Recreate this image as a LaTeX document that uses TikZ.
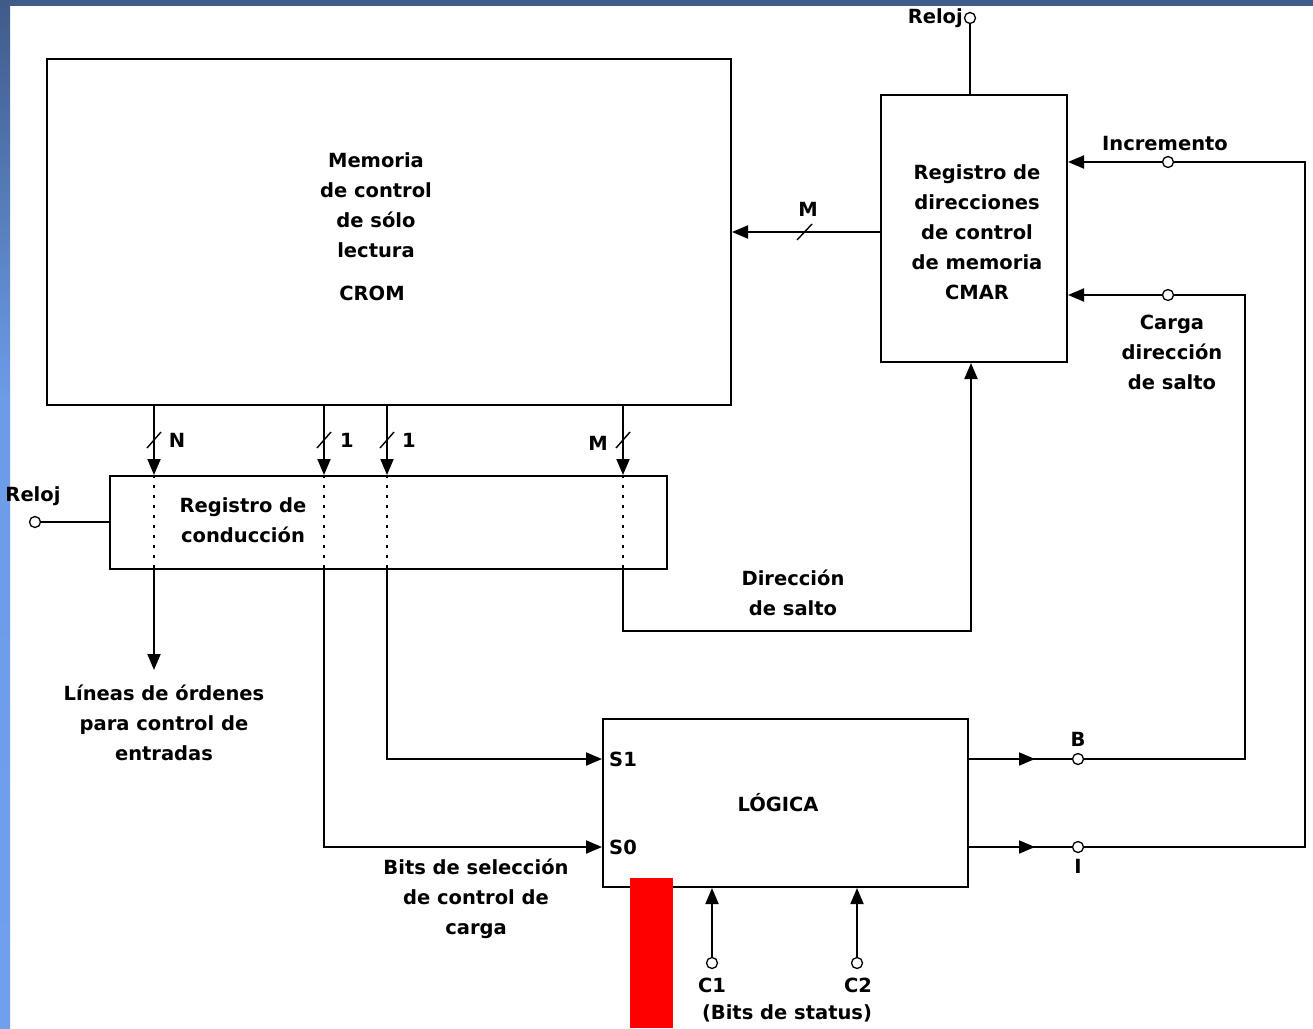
\documentclass[tikz,border=0pt]{standalone}
\usepackage{fontspec}
\setmainfont{DejaVu Sans}
\usetikzlibrary{arrows.meta,calc}
\definecolor{topblue}{HTML}{3F5B8A}
\definecolor{lightblue}{HTML}{6FA0EE}
\definecolor{midblue}{HTML}{6C9CE8}
\begin{document}
\begin{tikzpicture}[x=1pt,y=-1pt,
  every node/.style={font=\bfseries\fontsize{19.5}{30}\selectfont},
  box/.style={draw, line width=2pt, inner sep=0pt},
  ln/.style={line width=1.9pt},
  arr/.style={line width=1.9pt, -{Triangle[length=16pt,width=13pt]}},
  dotln/.style={line width=1.8pt, dash pattern=on 3pt off 7pt},
  slash/.style={line width=1.4pt},
  circ/.style={circle, draw, fill=white, inner sep=0pt, minimum size=11pt, line width=1.3pt},
  lbl/.style={align=center, inner sep=0pt}]
% background
\fill[white] (0,0) rectangle (1313,1028);
\useasboundingbox (0,0) rectangle (1313,1028);
\shade[top color=topblue, bottom color=midblue] (0,0) rectangle (10,400);
\shade[top color=midblue, bottom color=lightblue] (0,400) rectangle (10,1028);
\fill[topblue] (0,0) rectangle (1313,6);

% boxes
\node[box, minimum width=684pt, minimum height=346pt] (crom) at (389,232) {};
\node[box, minimum width=186pt, minimum height=267pt] (cmar) at (974,228.5) {};
\node[box, minimum width=557pt, minimum height=93pt] (reg) at (388.5,522.5) {};
\node[box, minimum width=365pt, minimum height=168pt] (logica) at (785.5,803) {};

% box texts
\node[lbl] (cromtxt) at (376,205) {Memoria\\de control\\de sólo\\lectura};
\node[lbl] (cromname) at (372,293) {CROM};
\node[lbl] (cmartxt) at (977,232) {Registro de\\direcciones\\de control\\de memoria\\CMAR};
\node[lbl] (regtxt) at (243,520) {Registro de\\conducción};
\node[lbl] (logtxt) at (778,803) {LÓGICA};
\node[lbl, anchor=west] (s1) at (609,759) {S1};
\node[lbl, anchor=west] (s0) at (609,847) {S0};

% key coordinates
\coordinate (xN) at (154,0);
\coordinate (xa) at (324,0);
\coordinate (xb) at (387,0);
\coordinate (xM) at (623,0);
\coordinate (xc) at (971,0);
\coordinate (rin) at (1305,0);
\coordinate (rcarga) at (1245,0);
\coordinate (ys1) at (0,759);
\coordinate (ys0) at (0,847);
\coordinate (ysalto) at (0,631);
\coordinate (ordtip) at (154,670);

% circles
\node[circ] (rtop) at (970,18) {};
\node[circ] (rleft) at (35,522) {};
\node[circ] (inc) at (1168,162) {};
\node[circ] (carg) at (1168,295) {};
\node[circ] (bcirc) at (1078,759) {};
\node[circ] (icirc) at (1078,847) {};
\node[circ] (c1) at (712,963) {};
\node[circ] (c2) at (857,963) {};

% CROM -> register
\foreach \xx in {xN,xa,xb,xM}{
  \draw[arr] (crom.south -| \xx) -- (reg.north -| \xx);
  \draw[dotln] (reg.north -| \xx) -- (reg.south -| \xx);
}
% slashes
\draw[slash] (147,448) -- (161,432);
\draw[slash] (317,448) -- (331,432);
\draw[slash] (380,448) -- (394,432);
\draw[slash] (616,448) -- (630,432);
\node[lbl] (lN) at (177,440) {N};
\node[lbl] (l1a) at (347,440) {1};
\node[lbl] (l1b) at (409,440) {1};
\node[lbl] (lM) at (598,443) {M};

% register outputs
\draw[arr] (reg.south -| xN) -- (ordtip);
\node[lbl] (ordtxt) at (164,723) {Líneas de órdenes\\para control de\\entradas};
\draw[arr] (reg.south -| xb) |- (logica.west |- ys1);
\draw[arr] (reg.south -| xa) |- (logica.west |- ys0);
\node[lbl] (seltxt) at (476,899) {Bits de selección\\de control de\\carga};
\draw[arr] (reg.south -| xM) |- (xc |- ysalto) -- (cmar.south -| xc);
\node[lbl] (saltotxt) at (793,593) {Dirección\\de salto};

% clocks
\draw[ln] (rleft) -- (reg.west |- rleft);
\node[lbl] (rlefttxt) at (33,496) {Reloj};
\draw[ln] (rtop) -- (cmar.north -| rtop);
\node[lbl, anchor=east] (rtoptxt) at (963,18) {Reloj};

% CMAR -> CROM
\draw[arr] (cmar.west |- crom.east) -- (crom.east);
\draw[slash] (797,240) -- (812,224);
\node[lbl] (lM2) at (808,209) {M};

% increment / load
\draw[arr] (inc) -- (cmar.east |- inc);
\draw[ln] (inc) -- (inc -| rin) |- (icirc);
\node[lbl] (inctxt) at (1165,144) {Incremento};
\draw[arr] (carg) -- (cmar.east |- carg);
\draw[ln] (carg) -- (carg -| rcarga) |- (bcirc);
\node[lbl] (cargtxt) at (1172,352) {Carga\\dirección\\de salto};

% logic outputs
\draw[ln] (logica.east |- bcirc) -- (bcirc);
\draw[arr] (logica.east |- bcirc) -- ($(logica.east |- bcirc)+(66,0)$);
\draw[ln] (logica.east |- icirc) -- (icirc);
\draw[arr] (logica.east |- icirc) -- ($(logica.east |- icirc)+(66,0)$);
\node[lbl] (btxt) at (1078,739) {B};
\node[lbl] (itxt) at (1078,866) {I};

% status bits
\draw[arr] (c1) -- (logica.south -| c1);
\draw[arr] (c2) -- (logica.south -| c2);
\node[lbl] (c1txt) at (712,985) {C1};
\node[lbl] (c2txt) at (858,985) {C2};
\node[lbl] (stattxt) at (787,1013) {(Bits de status)};

% red bar
\fill[red] (630,878) rectangle (673,1028);
\end{tikzpicture}
\end{document}
